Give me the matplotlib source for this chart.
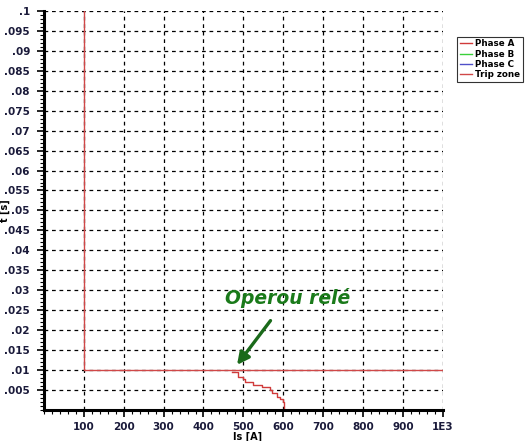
import matplotlib
matplotlib.use("Agg")
import matplotlib.pyplot as plt
from matplotlib.ticker import MultipleLocator, FixedLocator

# data
trip_x = [100, 100, 1000]
trip_y = [0.1, 0.01, 0.01]

phase_a_x = [471, 486, 499, 504, 524, 546, 566, 571, 584, 591, 599, 601]
phase_a_y = [0.0095, 0.0083, 0.0078, 0.0070, 0.0063, 0.0058, 0.0050, 0.0043, 0.0033, 0.0028, 0.0020, 0.0]

x_ticks = [100, 200, 300, 400, 500, 600, 700, 800, 900, 1000]
x_labels = ["100", "200", "300", "400", "500", "600", "700", "800", "900", "1E3"]
y_ticks = [0.005 * i for i in range(1, 21)]
y_labels = [("%.3f" % v).rstrip("0").lstrip("0") for v in y_ticks]

fig = plt.figure(figsize=(5.28, 4.41), dpi=100)
ax = fig.add_axes([0.083, 0.0703, 0.756, 0.905])

ax.plot(phase_a_x, phase_a_y, color="#d03a3a", lw=1.0, drawstyle="steps-post", label="Phase A")
ax.plot([], [], color="#3ad03a", lw=1.0, label="Phase B")
ax.plot([], [], color="#5050c8", lw=1.0, label="Phase C")
ax.plot(trip_x, trip_y, color="#d04848", lw=1.0, label="Trip zone")

ax.set_xlim(0, 1000)
ax.set_ylim(0, 0.1)
ax.xaxis.set_major_locator(FixedLocator(x_ticks))
ax.set_xticklabels(x_labels)
ax.yaxis.set_major_locator(FixedLocator(y_ticks))
ax.set_yticklabels(y_labels)
ax.xaxis.set_minor_locator(MultipleLocator(20))
ax.yaxis.set_minor_locator(MultipleLocator(0.001))

for lab in ax.get_xticklabels() + ax.get_yticklabels():
    lab.set_fontsize(7.5)
    lab.set_fontweight("bold")
    lab.set_color("#1a1a3a")

ax.tick_params(axis="y", which="major", length=5, width=1.2, direction="out", pad=5)
ax.tick_params(axis="x", which="major", length=5, width=1.2, direction="out", pad=4)
ax.tick_params(which="minor", length=3, width=0.8, direction="out")

ax.grid(True, which="major", color="black", linestyle=(0, (3, 3)), lw=0.9)
ax.spines["top"].set_visible(False)
ax.spines["right"].set_visible(False)
ax.spines["left"].set_linewidth(2.2)
ax.spines["bottom"].set_linewidth(2.2)

ax.set_xlabel("Is [A]", fontsize=7, fontweight="bold")
ax.xaxis.set_label_coords(0.51, -0.054)
ax.set_ylabel("t [s]", fontsize=7, fontweight="bold")
ax.yaxis.set_label_coords(-0.085, 0.5)

ax.annotate("Operou relé", xy=(484, 0.0113), xytext=(611, 0.0281),
            fontsize=13.5, fontweight="bold", fontstyle="italic", color="#1a7a1a",
            ha="center", va="center",
            arrowprops=dict(arrowstyle="-|>", color="#1a6a1a", lw=2.4,
                            mutation_scale=18, shrinkA=9, shrinkB=0))

leg = ax.legend(loc="upper left", bbox_to_anchor=(1.035, 0.935), fontsize=6.3,
                frameon=True, fancybox=False, edgecolor="black", handlelength=1.4,
                borderpad=0.3, labelspacing=0.15, handletextpad=0.4, borderaxespad=0)
leg.get_frame().set_linewidth(0.8)
for t in leg.get_texts():
    t.set_fontweight("bold")

fig.savefig("out.png", dpi=100)
